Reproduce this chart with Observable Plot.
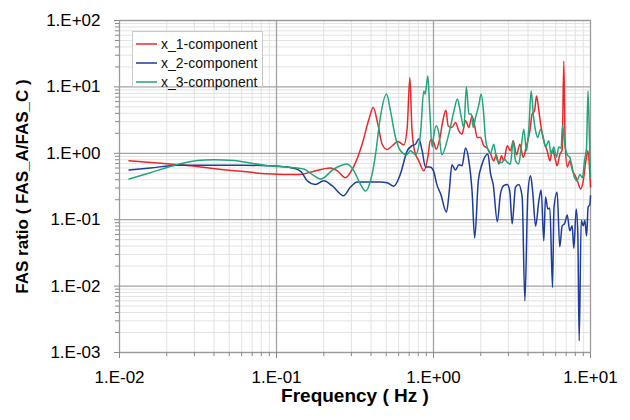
<!DOCTYPE html>
<html>
<head>
<meta charset="utf-8">
<script src="https://cdn.jsdelivr.net/npm/d3@7"></script>
<script src="https://cdn.jsdelivr.net/npm/@observablehq/plot@0.6"></script>
<style>
  html, body { margin: 0; padding: 0; background: #fff; }
  #chart { position: relative; width: 630px; height: 420px; font-family: "Liberation Sans", Arial, sans-serif; }
  #legend { position: absolute; left: 132px; top: 31px; width: 131px; height: 56px; border: 1px solid #c9c9c9; background: #fff; padding-top: 2px; box-sizing: border-box; }
  #legend .row { display: flex; align-items: center; height: 19px; font-size: 14px; color: #111; white-space: nowrap; }
  #legend .sw { flex: none; width: 21px; height: 2px; margin-left: 3px; margin-right: 4px; }
</style>
</head>
<body>
<div id="chart"><div id="legend"></div></div>
<script>
// ---- series names / colours ----
const seriesNames = ["x_1-component", "x_2-component", "x_3-component"];
const seriesColors = ["#e8292b", "#1d3c9b", "#20a67a"];

// ---- axis ticks ----
const xMajor = [0.01, 0.1, 1, 10];
const xTickLabels = ["1.E-02", "1.E-01", "1.E+00", "1.E+01"];
const yMajor = [0.001, 0.01, 0.1, 1, 10, 100];
const yTickLabels = ["1.E-03", "1.E-02", "1.E-01", "1.E+00", "1.E+01", "1.E+02"];
const minorSteps = [2, 3, 4, 5, 6, 7, 8, 9];

// ---- x_1-component (red) ----
const x1Freq = [
  0.0115, 0.0191, 0.0283, 0.0421, 0.0617, 0.0877, 0.111, 0.142, 0.165, 0.221,
  0.244, 0.275, 0.309, 0.351, 0.387, 0.413, 0.442, 0.471, 0.507, 0.546,
  0.593, 0.647, 0.680, 0.707, 0.728, 0.757, 0.806, 0.867, 0.92, 0.957,
  1.0, 1.04, 1.10, 1.15, 1.20, 1.24, 1.31, 1.38, 1.45, 1.52,
  1.60, 1.68, 1.76, 1.82, 1.90, 1.99, 2.09, 2.20, 2.31, 2.42,
  2.51, 2.61, 2.71, 2.80, 2.95, 3.09, 3.22, 3.38, 3.55, 3.73,
  3.91, 4.11, 4.25, 4.40, 4.53, 4.69, 4.85, 5.04, 5.30, 5.51,
  5.73, 5.96, 6.13, 6.37, 6.60, 6.76, 6.90, 7.11, 7.38, 7.68,
  7.99, 8.30, 8.64, 8.99, 9.34, 9.62, 9.86, 10.0
];
const x1Ratio = [
  0.77, 0.70, 0.65, 0.58, 0.53, 0.49, 0.48, 0.48, 0.52, 0.60,
  0.545, 0.43, 0.62, 1.37, 3.2, 4.9, 2.75, 1.37, 1.14, 1.30,
  1.51, 1.34, 2.45, 13.8, 2.45, 1.09, 0.77, 0.545, 0.87, 1.6,
  1.5, 1.15, 1.73, 3.2, 4.45, 2.6, 2.45, 2.9, 2.18, 1.95,
  3.1, 2.45, 3.66, 2.75, 1.73, 1.73, 1.30, 1.20, 0.98, 0.77,
  0.95, 0.69, 0.92, 0.77, 1.30, 1.09, 1.54, 0.95, 1.37, 0.87,
  1.30, 2.18, 3.9, 4.35, 7.3, 4.35, 2.45, 1.54, 1.09, 0.77,
  1.14, 0.82, 0.65, 0.95, 1.14, 24.6, 1.37, 0.62, 0.77, 0.545,
  0.46, 0.37, 0.29, 0.386, 0.77, 1.09, 0.6, 0.31
];

// ---- x_2-component (blue) ----
const x2Freq = [
  0.0115, 0.0157, 0.0234, 0.038, 0.0617, 0.0877, 0.117, 0.142, 0.157, 0.177,
  0.200, 0.226, 0.268, 0.296, 0.327, 0.397, 0.459, 0.507, 0.558, 0.616,
  0.680, 0.731, 0.768, 0.806, 0.847, 0.889, 0.947, 1.0, 1.05, 1.11,
  1.21, 1.26, 1.31, 1.38, 1.45, 1.52, 1.60, 1.68, 1.76, 1.83,
  1.93, 2.04, 2.22, 2.31, 2.40, 2.55, 2.67, 2.80, 2.95, 3.06,
  3.17, 3.33, 3.49, 3.67, 3.82, 3.99, 4.15, 4.28, 4.47, 4.69,
  4.85, 5.04, 5.17, 5.35, 5.51, 5.73, 5.85, 6.13, 6.37, 6.60,
  6.85, 7.11, 7.38, 7.64, 7.83, 8.11, 8.30, 8.47, 8.73, 8.99,
  9.20, 9.44, 9.66, 9.91, 10.0
];
const x2Ratio = [
  0.56, 0.60, 0.66, 0.66, 0.66, 0.65, 0.62, 0.54, 0.386, 0.34,
  0.386, 0.325, 0.23, 0.31, 0.37, 0.37, 0.37, 0.36, 0.32, 0.49,
  1.09, 1.30, 1.37, 1.64, 1.09, 0.62, 0.62, 0.545, 0.34, 0.245,
  0.13, 0.27, 0.67, 0.56, 0.67, 0.65, 1.20, 0.77, 0.27, 0.053,
  0.386, 0.69, 0.98, 0.49, 0.34, 0.093, 0.245, 0.325, 0.34, 0.27,
  0.087, 0.31, 0.34, 0.22, 0.006, 0.245, 0.46, 0.27, 0.080, 0.193,
  0.28, 0.048, 0.22, 0.145, 0.15, 0.0095, 0.15, 0.26, 0.039, 0.081,
  0.088, 0.118, 0.068, 0.081, 0.037, 0.145, 0.063, 0.0015, 0.097, 0.081,
  0.097, 0.057, 0.155, 0.17, 0.23
];

// ---- x_3-component (green) ----
const x3Freq = [
  0.0115, 0.0157, 0.0234, 0.0314, 0.0397, 0.0532, 0.0877, 0.117, 0.149, 0.173,
  0.191, 0.232, 0.282, 0.311, 0.343, 0.369, 0.397, 0.427, 0.455, 0.502,
  0.532, 0.573, 0.616, 0.673, 0.714, 0.768, 0.826, 0.867, 0.885, 0.902,
  0.920, 0.947, 0.981, 1.0, 1.04, 1.08, 1.13, 1.22, 1.28, 1.35,
  1.42, 1.49, 1.56, 1.62, 1.68, 1.74, 1.79, 1.85, 1.95, 2.01,
  2.08, 2.14, 2.22, 2.31, 2.42, 2.51, 2.61, 2.74, 2.83, 2.95,
  3.09, 3.22, 3.33, 3.49, 3.62, 3.76, 3.91, 4.05, 4.19, 4.32,
  4.47, 4.61, 4.81, 5.00, 5.17, 5.42, 5.62, 5.84, 6.07, 6.28,
  6.50, 6.63, 6.85, 7.11, 7.38, 7.64, 7.91, 8.22, 8.55, 8.89,
  9.16, 9.44, 9.64, 9.86, 10.0
];
const x3Ratio = [
  0.41, 0.51, 0.68, 0.78, 0.80, 0.78, 0.65, 0.62, 0.58, 0.46,
  0.41, 0.58, 0.69, 0.545, 0.34, 0.27, 0.386, 0.95, 3.08, 7.8,
  4.35, 1.73, 1.09, 0.95, 1.09, 0.95, 1.95, 8.7, 7.8, 10.5,
  14.6, 4.35, 1.24, 1.73, 2.6, 2.05, 0.95, 1.54, 2.45, 4.35,
  6.6, 3.9, 2.45, 10, 3.9, 3.9, 2.45, 3.4, 5.5, 7.8,
  4.35, 1.73, 1.14, 1.0, 1.37, 0.87, 0.73, 0.73, 0.82, 0.73,
  0.69, 1.54, 0.77, 0.69, 1.24, 2.3, 1.09, 2.45, 8.7, 3.9,
  2.18, 1.73, 2.3, 1.73, 1.24, 1.54, 0.95, 1.24, 0.87, 1.24,
  1.2, 2.6, 1.37, 0.95, 0.87, 0.62, 0.43, 0.386, 0.48, 0.43,
  0.77, 1.24, 8.7, 1.5, 0.44
];

// ---- build tables ----
const toRows = (F, V, s) => F.map((f, i) => ({f, r: V[i], s}));
const series = [
  toRows(x1Freq, x1Ratio, seriesNames[0]),
  toRows(x2Freq, x2Ratio, seriesNames[1]),
  toRows(x3Freq, x3Ratio, seriesNames[2])
];
const xMinor = xMajor.slice(0, -1).flatMap(d => minorSteps.map(k => k * d));
const yMinor = yMajor.slice(0, -1).flatMap(d => minorSteps.map(k => k * d));

const font = "'Liberation Sans', Arial, sans-serif";

const chart = Plot.plot({
  width: 630,
  height: 420,
  marginLeft: 119,
  marginRight: 40,
  marginTop: 20,
  marginBottom: 68,
  style: {fontFamily: font, background: "#fff", color: "#000", overflow: "visible"},
  x: {type: "log", domain: [0.01, 10], label: null},
  y: {type: "log", domain: [0.001, 100], label: null},
  marks: [
    Plot.gridX(xMinor, {stroke: "#e3e3e3", strokeOpacity: 1}),
    Plot.gridY(yMinor, {stroke: "#e3e3e3", strokeOpacity: 1}),
    Plot.gridX(xMajor, {stroke: "#a3a3a3", strokeOpacity: 1, strokeWidth: 1.3}),
    Plot.gridY(yMajor, {stroke: "#a3a3a3", strokeOpacity: 1, strokeWidth: 1.3}),
    Plot.frame({stroke: "#9a9a9a"}),
    Plot.axisX(xMinor, {tickSize: 4, tickFormat: () => "", stroke: "#888", label: null}),
    Plot.axisY(yMinor, {tickSize: 4, tickFormat: () => "", stroke: "#888", label: null}),
    Plot.axisX(xMajor, {tickSize: 6, tickPadding: 12, fontSize: 17, stroke: "#888", fill: "#000",
      tickFormat: d => xTickLabels[xMajor.indexOf(d)], label: null}),
    Plot.axisY(yMajor, {tickSize: 5, tickPadding: 14, fontSize: 17, stroke: "#888", fill: "#000",
      tickFormat: d => yTickLabels[yMajor.indexOf(d)], label: null}),
    ...series.map((rows, i) => Plot.line(rows, {x: "f", y: "r", stroke: seriesColors[i], strokeWidth: 1.5, curve: "monotone-x"})),
    Plot.text(["FAS ratio ( FAS_A/FAS_C )"], {text: d => d, frameAnchor: "left", dx: -97, rotate: -90,
      textAnchor: "middle", fontSize: 17, fontWeight: "bold", fill: "#000"}),
    Plot.text(["Frequency ( Hz )"], {text: d => d, frameAnchor: "bottom", dy: 49, textAnchor: "middle",
      fontSize: 19, fontWeight: "bold", fill: "#000"})
  ]
});

const host = document.getElementById("chart");
host.insertBefore(chart, host.firstChild);

const legend = document.getElementById("legend");
seriesNames.forEach((name, i) => {
  const row = document.createElement("div");
  row.className = "row";
  const sw = document.createElement("span");
  sw.className = "sw";
  sw.style.background = seriesColors[i];
  sw.style.opacity = "0.75";
  const label = document.createElement("span");
  label.textContent = name;
  row.appendChild(sw);
  row.appendChild(label);
  legend.appendChild(row);
});
</script>
</body>
</html>
